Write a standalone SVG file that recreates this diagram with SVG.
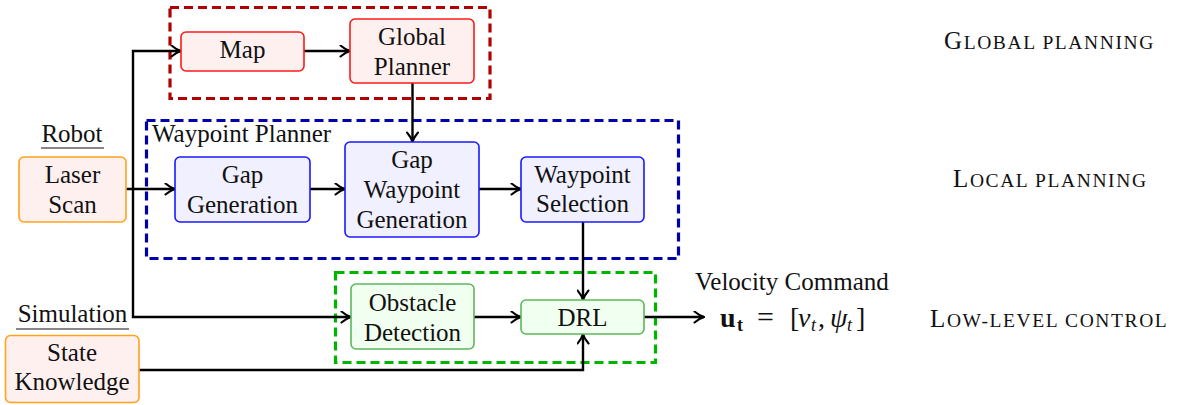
<svg xmlns="http://www.w3.org/2000/svg" width="1178" height="405" viewBox="0 0 1178 405" font-family="Liberation Serif, serif">
<defs>
<marker id="arr" viewBox="0 0 13 13" refX="12" refY="6.5" markerWidth="13" markerHeight="13" markerUnits="userSpaceOnUse" orient="auto">
<path d="M2.5,1 Q7.5,5.3 12,6.5 Q7.5,7.7 2.5,12" fill="none" stroke="#000" stroke-width="2.1" stroke-linecap="round"/>
</marker>
<style>
text{font-size:25px;fill:#111}
.c{text-anchor:middle}
.grp{fill:none;stroke-width:3.2;stroke-dasharray:9 5}
.red{fill:#fff0f0;stroke:#ff1a1a;stroke-width:1.6}
.blue{fill:#f0f0ff;stroke:#1a1aff;stroke-width:1.6}
.green{fill:#f0fff0;stroke:#5cb85c;stroke-width:1.6}
.orange{fill:#fff0f0;stroke:#ffa31a;stroke-width:1.6}
.ln{fill:none;stroke:#000;stroke-width:2.4}
.sc{font-size:19.5px}
.lab{letter-spacing:1.6px}
.m{font-size:28px}
.s{font-size:18px}
</style>
</defs>

<g id="group-boxes">
<rect id="global-box" class="grp" x="170" y="7.5" width="320" height="91" stroke="#b00000"/>
<rect id="waypoint-box" class="grp" x="146.5" y="120.5" width="532" height="138" stroke="#0000a8"/>
<rect id="control-box" class="grp" x="335.5" y="272.5" width="320" height="90" stroke="#00b400"/>
<text x="152" y="142">Waypoint Planner</text>
</g>

<g id="connectors">
<path class="ln" d="M126,189 H175" marker-end="url(#arr)"/>
<path class="ln" d="M133,189 V51 H181" marker-end="url(#arr)"/>
<path class="ln" d="M133,189 V317 H351" marker-end="url(#arr)"/>
<path class="ln" d="M304,51 H350" marker-end="url(#arr)"/>
<path class="ln" d="M412.5,83 V142" marker-end="url(#arr)"/>
<path class="ln" d="M310,189 H345" marker-end="url(#arr)"/>
<path class="ln" d="M479,189 H521" marker-end="url(#arr)"/>
<path class="ln" d="M583,222 V300" marker-end="url(#arr)"/>
<path class="ln" d="M474,317 H521" marker-end="url(#arr)"/>
<path class="ln" d="M139,370 H583 V334" marker-end="url(#arr)"/>
<path class="ln" d="M644,317 H704" marker-end="url(#arr)"/>
</g>

<g id="map">
<rect class="red" x="181" y="32" width="123" height="39" rx="5"/>
<text class="c" x="242.5" y="58">Map</text>
</g>
<g id="global-planner">
<rect class="red" x="350" y="19" width="124" height="64" rx="5"/>
<text class="c" x="412" y="45">Global</text>
<text class="c" x="412" y="75">Planner</text>
</g>

<g id="robot">
<text class="c" x="72" y="142">Robot</text>
<line x1="41" y1="148" x2="104" y2="148" stroke="#111" stroke-width="1.2"/>
</g>
<g id="laser-scan">
<rect class="orange" x="19" y="157" width="107" height="65" rx="5"/>
<text class="c" x="72.5" y="183">Laser</text>
<text class="c" x="72.5" y="213">Scan</text>
</g>

<g id="gap-generation">
<rect class="blue" x="175" y="157" width="135" height="65" rx="5"/>
<text class="c" x="242.5" y="183">Gap</text>
<text class="c" x="242.5" y="213">Generation</text>
</g>
<g id="gap-waypoint-generation">
<rect class="blue" x="345" y="142" width="134" height="95" rx="5"/>
<text class="c" x="412" y="168">Gap</text>
<text class="c" x="412" y="198">Waypoint</text>
<text class="c" x="412" y="228">Generation</text>
</g>
<g id="waypoint-selection">
<rect class="blue" x="521" y="157" width="123" height="65" rx="5"/>
<text class="c" x="582.5" y="183">Waypoint</text>
<text class="c" x="582.5" y="212">Selection</text>
</g>

<g id="simulation">
<text class="c" x="72.5" y="322">Simulation</text>
<line x1="16" y1="329" x2="129" y2="329" stroke="#111" stroke-width="1.2"/>
</g>
<g id="state-knowledge">
<rect class="orange" x="5.5" y="335.5" width="133.5" height="67" rx="5"/>
<text class="c" x="72" y="361">State</text>
<text class="c" x="72" y="390">Knowledge</text>
</g>

<g id="obstacle-detection">
<rect class="green" x="351" y="284" width="123" height="65" rx="5"/>
<text class="c" x="412.5" y="311">Obstacle</text>
<text class="c" x="412.5" y="341">Detection</text>
</g>
<g id="drl">
<rect class="green" x="521" y="300" width="123" height="34" rx="5"/>
<text class="c" x="582.5" y="326">DRL</text>
</g>

<g id="velocity-command">
<text x="695" y="290">Velocity Command</text>
<text y="327"><tspan class="m" x="720" font-weight="bold">u</tspan><tspan class="s" x="737" dy="4" font-weight="bold">t</tspan><tspan x="757" dy="-4" font-size="30px">=</tspan><tspan class="m" x="790">[</tspan><tspan class="m" x="798" font-style="italic">v</tspan><tspan class="s" x="811" dy="4" font-style="italic">t</tspan><tspan class="m" x="818" dy="-4">,</tspan><tspan class="m" x="830" font-style="italic">ψ</tspan><tspan class="s" x="847" dy="4" font-style="italic">t</tspan><tspan class="m" x="856" dy="-4">]</tspan></text>
</g>

<g id="labels">
<text class="lab" x="944" y="49">G<tspan class="sc">LOBAL PLANNING</tspan></text>
<text class="lab" x="953" y="187">L<tspan class="sc">OCAL PLANNING</tspan></text>
<text class="lab" x="930" y="327">L<tspan class="sc">OW-LEVEL CONTROL</tspan></text>
</g>
</svg>
